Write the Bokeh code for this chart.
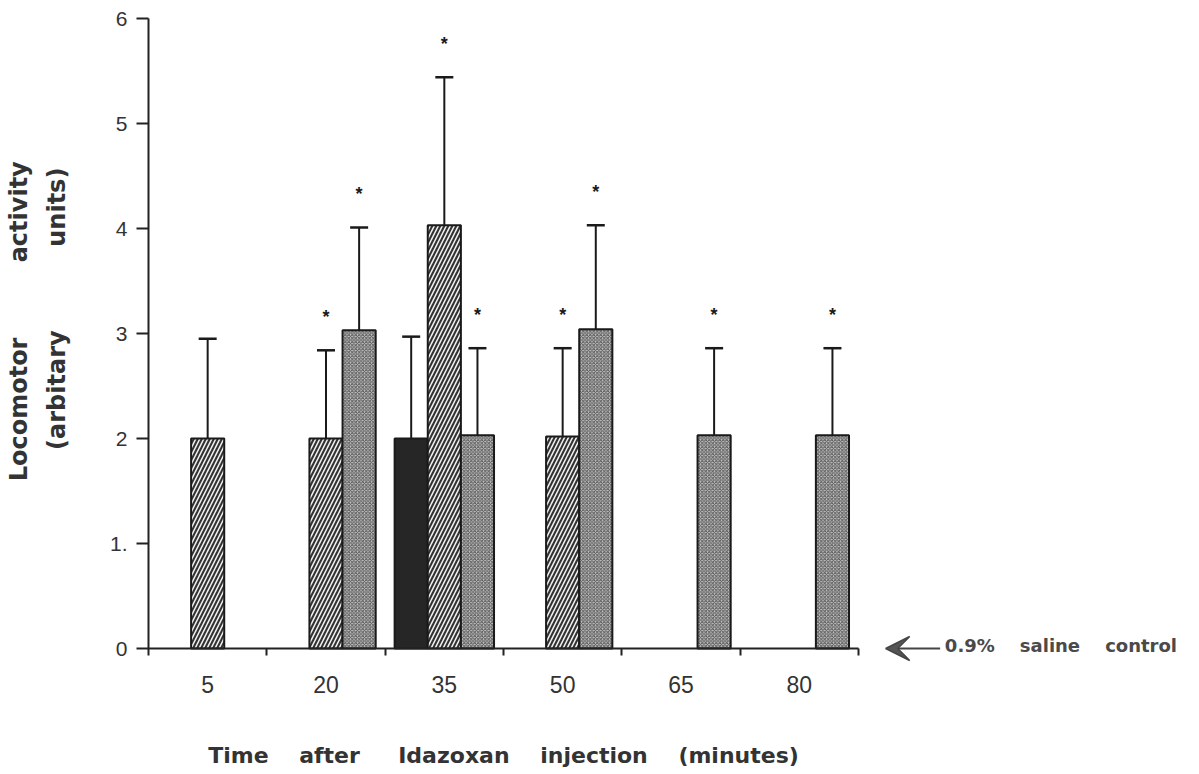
from bokeh.plotting import figure
from bokeh.models import (Range1d, FixedTicker, ColumnDataSource, Whisker, TeeHead,
                          Arrow, VeeHead, Label)
from bokeh.core.properties import value
from bokeh.embed import file_html
from bokeh.resources import INLINE

# ---- data ----
times = ["5", "20", "35", "50", "65", "80"]

black_mean = [None, None, 2.00, None, None, None]
black_err = [None, None, 2.97, None, None, None]
black_sig = [False, False, False, False, False, False]

hatch_mean = [2.00, 2.00, 4.03, 2.02, None, None]
hatch_err = [2.95, 2.84, 5.44, 2.86, None, None]
hatch_sig = [False, True, True, True, False, False]

dot_mean = [None, 3.03, 2.03, 3.04, 2.03, 2.03]
dot_err = [None, 4.01, 2.86, 4.03, 2.86, 2.86]
dot_sig = [False, True, True, True, True, True]

y_ticks = [0, 1, 2, 3, 4, 5, 6]
y_tick_labels = {0: "0", 1: "1.", 2: "2", 3: "3", 4: "4", 5: "5", 6: "6"}

BAR_W = 0.28
FONT = "Liberation Sans"
BFONT = "DejaVu Sans"


def sp(n):
    return "\u00a0" * n


W, H = 1199, 774
FRAME_LEFT, FRAME_TOP = 148, 18
px_per_unit = 118.33
x_end = -0.5 + (W - FRAME_LEFT) / px_per_unit

p = figure(width=W, height=H, output_backend="svg", toolbar_location=None,
           x_range=Range1d(-0.5, x_end), y_range=Range1d(-1.2, 6),
           min_border_left=FRAME_LEFT, min_border_right=0,
           min_border_top=FRAME_TOP, min_border_bottom=0)
p.outline_line_color = None
p.grid.visible = False
p.background_fill_color = "white"
p.border_fill_color = "white"


def series(means, errs, sigs, offset):
    xs, ms, es, sx, sy, st = [], [], [], [], [], []
    for i, (m, e, s) in enumerate(zip(means, errs, sigs)):
        if m is None:
            continue
        x = i + offset * BAR_W
        xs.append(x); ms.append(m); es.append(e)
        if s:
            sx.append(x); sy.append(e); st.append("*")
    return (ColumnDataSource(dict(x=xs, mean=ms, err=es)),
            ColumnDataSource(dict(x=sx, y=sy, t=st)))


specs = [
    (black_mean, black_err, black_sig, -1,
     dict(fill_color="#262626")),
    (hatch_mean, hatch_err, hatch_sig, 0,
     dict(fill_color="#333333", hatch_pattern="/", hatch_color="#f4f4f4",
          hatch_weight=1.5, hatch_scale=8)),
    (dot_mean, dot_err, dot_sig, 1,
     dict(fill_color="#c4c4c4", hatch_pattern="x", hatch_color="#555555",
          hatch_weight=1.0, hatch_scale=3.5)),
]

for means, errs, sigs, off, style in specs:
    src, sig_src = series(means, errs, sigs, off)
    p.vbar(x="x", top="mean", bottom=0, width=BAR_W, source=src,
           line_color="#1a1a1a", line_width=2, **style)
    wh = Whisker(base="x", lower="mean", upper="err", source=src,
                 line_color="#1a1a1a", line_width=2,
                 upper_head=TeeHead(size=18, line_color="#1a1a1a", line_width=2.5),
                 lower_head=None)
    p.add_layout(wh)
    p.text(x="x", y="y", text="t", source=sig_src, y_offset=-33,
           text_align="center", text_baseline="middle",
           text_font=value(FONT), text_font_size="18px", text_font_style="bold",
           text_color="#1a1a1a")

# ---- x axis (drawn at y = 0) ----
xa = p.xaxis[0]
xa.fixed_location = 0
xa.ticker = FixedTicker(ticks=list(range(len(times))),
                        minor_ticks=[i + 0.5 for i in range(len(times))])
xa.major_label_overrides = {i: t for i, t in enumerate(times)}
xa.bounds = (-0.57, len(times) - 0.5)
xa.major_tick_in = 0
xa.major_tick_out = 0
xa.minor_tick_in = 0
xa.minor_tick_out = 7
xa.minor_tick_line_width = 2
xa.minor_tick_line_color = "#222222"
xa.axis_line_width = 2
xa.axis_line_color = "#222222"
xa.major_label_standoff = 20
xa.major_label_text_font = FONT
xa.major_label_text_font_size = "23px"
xa.major_label_text_color = "#333333"
xa.axis_label = ("Time" + sp(4) + "after" + sp(5) + "Idazoxan" + sp(4) +
                 "injection" + sp(4) + "(minutes)")
xa.axis_label_text_font = BFONT
xa.axis_label_text_font_size = "22px"
xa.axis_label_text_font_style = "bold"
xa.axis_label_text_color = "#333333"
xa.axis_label_standoff = 47

# ---- y axis ----
ya = p.yaxis[0]
ya.bounds = (-0.07, 6)
ya.ticker = FixedTicker(ticks=y_ticks)
ya.major_label_overrides = y_tick_labels
ya.major_tick_in = 0
ya.major_tick_out = 12
ya.major_tick_line_width = 2
ya.major_tick_line_color = "#222222"
ya.minor_tick_out = 0
ya.minor_tick_in = 0
ya.axis_line_width = 2
ya.axis_line_color = "#222222"
ya.major_label_standoff = 9
ya.major_label_text_font = FONT
ya.major_label_text_font_size = "21px"
ya.major_label_text_color = "#333333"
# leading no-break spaces shift the centred label up to the middle of the 0-6 span
ya.axis_label = (sp(18) + "Locomotor" + sp(9) + "activity\n" +
                 sp(21) + "(arbitary" + sp(10) + "units)")
ya.axis_label_text_font = BFONT
ya.axis_label_text_font_size = "24px"
ya.axis_label_text_font_style = "bold"
ya.axis_label_text_color = "#333333"
ya.axis_label_text_line_height = 1.35
ya.axis_label_standoff = 36

# ---- saline control annotation ----
p.add_layout(Arrow(x_start=6.19, y_start=0, x_end=5.73, y_end=0,
                   line_color="#444444", line_width=2,
                   end=VeeHead(size=24, fill_color="#555555", line_color="#444444",
                               line_width=1.5)))
p.add_layout(Label(x=6.23, y=0, text="0.9%" + sp(4) + "saline" + sp(4) + "control",
                   text_font=BFONT, text_font_size="18px", text_font_style="bold",
                   text_color="#4a4a4a", text_baseline="middle", y_offset=3))

open("out.html", "w").write(file_html(p, INLINE))
